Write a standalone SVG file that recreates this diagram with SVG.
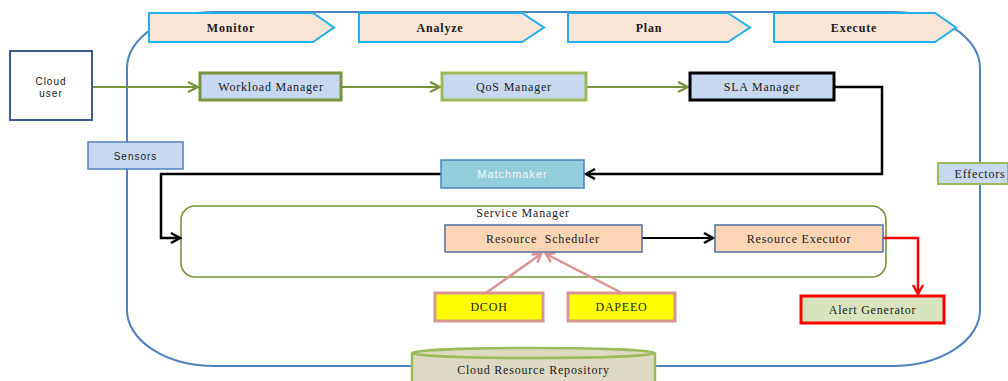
<svg xmlns="http://www.w3.org/2000/svg" width="1008" height="381" viewBox="0 0 1008 381">
<style>
.serif{font-family:"Liberation Serif","Times New Roman",serif;font-size:12px;letter-spacing:0.8px;fill:#1a1a1a;text-anchor:middle;dominant-baseline:central}
.bold{font-weight:bold}
.sans{font-family:"Liberation Sans",Arial,sans-serif;font-size:10px;letter-spacing:1px;fill:#1a1a1a;text-anchor:middle;dominant-baseline:central}
.chev{fill:#FBE5D6;stroke:#1FB0EC;stroke-width:2}
.blueb{fill:#C6D9F1}
</style>
<defs>
<marker id="mg" markerUnits="userSpaceOnUse" markerWidth="16" markerHeight="16" viewBox="-12 -8 16 16" refX="0" refY="0" orient="auto"><path d="M-10,-5 L0,0 L-10,5" fill="none" stroke="#77933C" stroke-width="2.2"/></marker>
<marker id="mk" markerUnits="userSpaceOnUse" markerWidth="16" markerHeight="16" viewBox="-12 -8 16 16" refX="0" refY="0" orient="auto"><path d="M-9,-5 L0,0 L-9,5" fill="none" stroke="#000" stroke-width="2.5"/></marker>
<marker id="mr" markerUnits="userSpaceOnUse" markerWidth="16" markerHeight="16" viewBox="-12 -8 16 16" refX="0" refY="0" orient="auto"><path d="M-9,-5 L0,0 L-9,5" fill="none" stroke="#FF0000" stroke-width="2.5"/></marker>
<marker id="mp" markerUnits="userSpaceOnUse" markerWidth="16" markerHeight="16" viewBox="-12 -8 16 16" refX="0" refY="0" orient="auto"><path d="M-8,-5 L0,0 L-8,5" fill="none" stroke="#D99594" stroke-width="2.5"/></marker>
</defs>
<rect width="1008" height="381" fill="#fff"/>
<!-- outer loop -->
<rect id="outer" x="127" y="12" width="853" height="354" rx="88" ry="56" fill="none" stroke="#4F81BD" stroke-width="2"/>
<!-- phases -->
<g id="monitor"><path class="chev" d="M149,13 L313,13 L334,27.5 L313,42 L149,42 Z"/><text class="serif bold" x="231" y="27.5">Monitor</text></g>
<g id="analyze"><path class="chev" d="M359,13 L522,13 L544,27.5 L522,42 L359,42 Z"/><text class="serif bold" x="440" y="27.5">Analyze</text></g>
<g id="plan"><path class="chev" d="M568,13 L728,13 L750,27.5 L728,42 L568,42 Z"/><text class="serif bold" x="649" y="27.5">Plan</text></g>
<g id="execute"><path class="chev" d="M774,13 L935,13 L956,27.5 L935,42 L774,42 Z"/><text class="serif bold" x="854" y="27.5">Execute</text></g>
<!-- service manager container -->
<g id="service-manager"><rect x="181" y="206" width="705" height="71" rx="14" fill="none" stroke="#77933C" stroke-width="1.6"/><text class="serif" x="523" y="213">Service Manager</text></g>
<!-- connectors -->
<g id="connectors" fill="none">
<path d="M92,87 L198,87" stroke="#77933C" stroke-width="2.2" marker-end="url(#mg)"/>
<path d="M341,87 L440,87" stroke="#77933C" stroke-width="2.2" marker-end="url(#mg)"/>
<path d="M586,87 L688,87" stroke="#77933C" stroke-width="2.2" marker-end="url(#mg)"/>
<path d="M834,87 L882,87 L882,174 L586,174" stroke="#000" stroke-width="2.5" marker-end="url(#mk)"/>
<path d="M441,174 L161,174 L161,238 L180,238" stroke="#000" stroke-width="2.5" marker-end="url(#mk)"/>
<path d="M642,238 L713,238" stroke="#000" stroke-width="2" marker-end="url(#mk)"/>
<path d="M883,238 L918,238 L918,294" stroke="#FF0000" stroke-width="2.5" marker-end="url(#mr)"/>
<path d="M486,293 L541,254" stroke="#D99594" stroke-width="2.5" marker-end="url(#mp)"/>
<path d="M622,293 L546,254" stroke="#D99594" stroke-width="2.5" marker-end="url(#mp)"/>
</g>
<!-- nodes -->
<g id="cloud-user"><rect x="10" y="51" width="82" height="69" fill="#fff" stroke="#3B5B8C" stroke-width="2"/><text class="sans" x="51" y="81">Cloud</text><text class="sans" x="51" y="93">user</text></g>
<g id="workload-manager"><rect class="blueb" x="200" y="73" width="141" height="27" stroke="#77933C" stroke-width="3"/><text class="serif" x="271" y="87">Workload Manager</text></g>
<g id="qos-manager"><rect class="blueb" x="442" y="73" width="144" height="27" stroke="#9BBB59" stroke-width="3"/><text class="serif" x="514" y="87">QoS Manager</text></g>
<g id="sla-manager"><rect class="blueb" x="690" y="73" width="144" height="27" stroke="#000" stroke-width="3"/><text class="serif" x="762" y="87">SLA Manager</text></g>
<g id="sensors"><rect class="blueb" x="88" y="142" width="95" height="27" stroke="#4F81BD" stroke-width="1.5"/><text class="sans" x="135.5" y="156">Sensors</text></g>
<g id="effectors"><rect x="938" y="163" width="70" height="21" fill="#C6D9F1" stroke="#9BBB59" stroke-width="2"/><text class="serif" x="980" y="173.5">Effectors</text></g>
<g id="matchmaker"><rect x="441" y="160" width="143" height="28" fill="#92CDDC" stroke="#4F81BD" stroke-width="1.5"/><text class="sans" x="512.5" y="174" style="font-size:11px;fill:#F4F8FA">Matchmaker</text></g>
<g id="resource-scheduler"><rect x="445" y="225" width="197" height="27" fill="#FCD5B5" stroke="#4F6FA0" stroke-width="1.5"/><text class="serif" x="543" y="238.5" xml:space="preserve">Resource  Scheduler</text></g>
<g id="resource-executor"><rect x="715" y="225" width="168" height="27" fill="#FCD5B5" stroke="#4F6FA0" stroke-width="1.5"/><text class="serif" x="799" y="238.5">Resource Executor</text></g>
<g id="dcoh"><rect x="435" y="293" width="108" height="28" fill="#FFFF00" stroke="#D99594" stroke-width="3"/><text class="serif" x="489" y="307">DCOH</text></g>
<g id="dapeeo"><rect x="568" y="293" width="107" height="28" fill="#FFFF00" stroke="#D99594" stroke-width="3"/><text class="serif" x="621.5" y="307">DAPEEO</text></g>
<g id="alert-generator"><rect x="801" y="296" width="143" height="27" fill="#D7E4BD" stroke="#FF0000" stroke-width="3"/><text class="serif" x="872.5" y="309.5">Alert Generator</text></g>
<g id="cloud-resource-repository"><path d="M412,353 L412,392 L655,392 L655,353" fill="#DDD9C3" stroke="#9BBB59" stroke-width="2.5"/><ellipse cx="533.5" cy="353" rx="121.5" ry="5" fill="#DDD9C3" stroke="#9BBB59" stroke-width="2.5"/><text class="serif" x="533.5" y="370">Cloud Resource Repository</text></g>
</svg>
